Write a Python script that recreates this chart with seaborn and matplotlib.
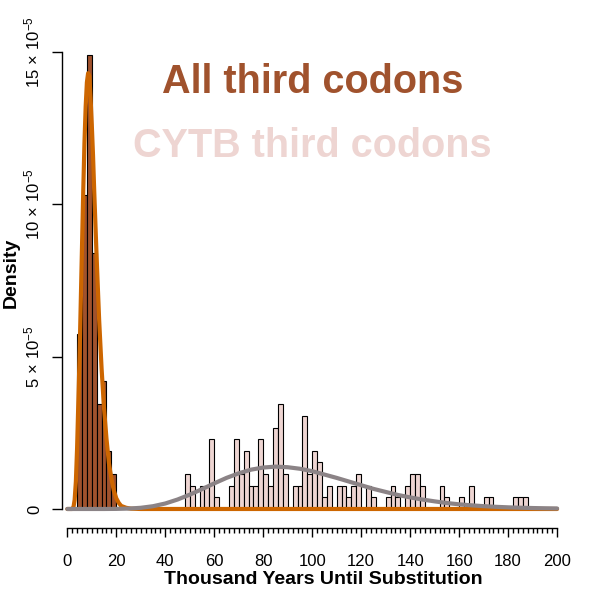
import numpy as np
import pandas as pd
import matplotlib
matplotlib.use("Agg")
import matplotlib.pyplot as plt
import seaborn as sns

# ---------------- data (x in thousand years, density in units of 1e-5 per year) ----------------
all_bin_start_kyr = [4, 6, 8, 10, 12, 14, 16, 18]
all_counts = [15, 27, 39, 22, 9, 11, 5, 3]

cytb_bin_start_kyr = [48, 50, 54, 56, 58, 60, 66, 68, 70, 72, 74, 76, 78, 80, 82, 84, 86, 88,
                      92, 94, 96, 98, 100, 102, 104, 106, 110, 112, 114, 116, 118, 122, 124,
                      130, 132, 134, 138, 140, 142, 144, 152, 154, 160, 164, 170, 172, 182, 184, 186]
cytb_counts = [3, 2, 2, 2, 6, 1, 2, 6, 3, 5, 2, 2, 6, 3, 2, 7, 9, 3,
               2, 2, 8, 3, 5, 4, 1, 2, 2, 2, 1, 2, 3, 2, 1,
               1, 2, 1, 2, 3, 3, 2, 2, 1, 1, 2, 1, 1, 1, 1, 1]

all_fit_kyr = [0, 2, 2.5, 3, 3.5, 4, 4.5, 5, 5.5, 6, 6.5, 7, 7.5, 8, 8.5, 9, 9.5, 10, 10.5,
               11, 11.5, 12, 13, 14, 15, 16, 17, 18, 19, 20, 21, 22, 24, 26, 30, 200]
all_fit_density = [0, 0, 0.05, 0.3, 0.9, 2.0, 3.5, 5.0, 6.8, 8.6, 10.4, 12.0, 13.2, 14.0, 14.3,
                   14.2, 13.5, 12.6, 11.6, 10.4, 9.3, 8.2, 6.2, 4.6, 3.3, 2.3, 1.5, 1.0, 0.6,
                   0.35, 0.2, 0.1, 0.04, 0.01, 0, 0]

cytb_fit_kyr = [0, 15, 20, 25, 30, 35, 40, 45, 50, 55, 60, 65, 70, 75, 80, 85, 90, 95, 100,
                105, 110, 115, 120, 125, 130, 135, 140, 145, 150, 155, 160, 165, 170, 175,
                180, 185, 190, 195, 200]
cytb_fit_density = [0, 0, 0.003, 0.013, 0.039, 0.091, 0.18, 0.31, 0.47, 0.65, 0.84, 1.02, 1.17,
                    1.29, 1.36, 1.39, 1.37, 1.32, 1.24, 1.13, 1.02, 0.90, 0.78, 0.66, 0.56,
                    0.46, 0.38, 0.31, 0.25, 0.195, 0.153, 0.12, 0.093, 0.071, 0.054, 0.041,
                    0.031, 0.023, 0.017]

x_major_kyr = [0, 20, 40, 60, 80, 100, 120, 140, 160, 180, 200]
x_major_labels = ["0", "20", "40", "60", "80", "100", "120", "140", "160", "180", "200"]
y_ticks_e5 = [0, 5, 10, 15]
y_tick_labels = ["0", r"$5\,\times\,10^{-5}$", r"$10\,\times\,10^{-5}$", r"$15\,\times\,10^{-5}$"]

title_all = "All third codons"
title_cytb = "CYTB third codons"
x_label = "Thousand Years Until Substitution"
y_label = "Density"

# ---------------- style ----------------
sns.set_theme(style="white")
plt.rcParams["font.family"] = ["Liberation Sans", "DejaVu Sans"]
plt.rcParams["mathtext.fontset"] = "custom"
plt.rcParams["mathtext.rm"] = "Liberation Sans"
plt.rcParams["mathtext.it"] = "Liberation Sans:italic"
plt.rcParams["mathtext.bf"] = "Liberation Sans:bold"
for key in ["text.color", "axes.labelcolor", "xtick.color", "ytick.color", "axes.edgecolor"]:
    plt.rcParams[key] = "black"

C_ALL = "#A0522D"
C_CYTB = "#EED5D2"
C_ALL_LINE = "#CD6600"
C_CYTB_LINE = "#8B8386"

fig = plt.figure(figsize=(6, 6), dpi=100)
ax = fig.add_axes([61.7 / 600, 72 / 600, (585 - 61.7) / 600, (582 - 72) / 600])

K = 1000.0
cytb_df = pd.DataFrame({"years": (np.array(cytb_bin_start_kyr) + 1) * K, "n": cytb_counts})
all_df = pd.DataFrame({"years": (np.array(all_bin_start_kyr) + 1) * K, "n": all_counts})

cytb_edges = [float(v) * K for v in range(cytb_bin_start_kyr[0], cytb_bin_start_kyr[-1] + 3, 2)]
all_edges = [float(v) * K for v in range(all_bin_start_kyr[0], all_bin_start_kyr[-1] + 3, 2)]

sns.histplot(data=cytb_df, x="years", weights="n", bins=cytb_edges, stat="density",
             color=C_CYTB, edgecolor="black", linewidth=0.8, alpha=1, ax=ax)
sns.histplot(data=all_df, x="years", weights="n", bins=all_edges, stat="density",
             color=C_ALL, edgecolor="black", linewidth=0.8, alpha=1, ax=ax)

sns.lineplot(x=np.array(all_fit_kyr) * K, y=np.array(all_fit_density) * 1e-5,
             color=C_ALL_LINE, lw=3, ax=ax)
sns.lineplot(x=np.array(cytb_fit_kyr) * K, y=np.array(cytb_fit_density) * 1e-5,
             color=C_CYTB_LINE, lw=3, ax=ax)

ax.set_xlim(-2290, 211400)
ax.set_ylim(-0.624e-5, 16.11e-5)

ax.set_xticks(np.array(x_major_kyr) * K)
ax.set_xticklabels(x_major_labels)
ax.set_xticks(np.arange(0, 201, 2) * K, minor=True)
ax.set_yticks(np.array(y_ticks_e5) * 1e-5)
ax.set_yticklabels(y_tick_labels, rotation=90, va="center")

ax.tick_params(axis="x", which="major", direction="out", length=6.5, width=1.0,
               labelsize=12, pad=12, color="black", labelcolor="black", bottom=True)
ax.tick_params(axis="x", which="minor", direction="out", length=3.8, width=1.0,
               color="black", bottom=True)
ax.tick_params(axis="y", which="major", direction="out", length=7, width=1.0,
               labelsize=12, pad=7, color="black", labelcolor="black", left=True)

for s in ["top", "right"]:
    ax.spines[s].set_visible(False)
ax.spines["left"].set_bounds(0, 15e-5)
ax.spines["bottom"].set_bounds(0, 200 * K)
for s in ["left", "bottom"]:
    ax.spines[s].set_color("black")
    ax.spines[s].set_linewidth(1.0)

ax.set_xlabel(x_label, fontsize=14, fontweight="bold", labelpad=2, color="black")
ax.set_ylabel(y_label, fontsize=14, fontweight="bold", labelpad=2, color="black")

ax.text(100 * K, 14.0e-5, title_all, color=C_ALL, fontsize=28.5, fontweight="bold",
        ha="center", va="center")
ax.text(100 * K, 11.9e-5, title_cytb, color=C_CYTB, fontsize=28.5, fontweight="bold",
        ha="center", va="center")

fig.savefig("out.png", dpi=100)
